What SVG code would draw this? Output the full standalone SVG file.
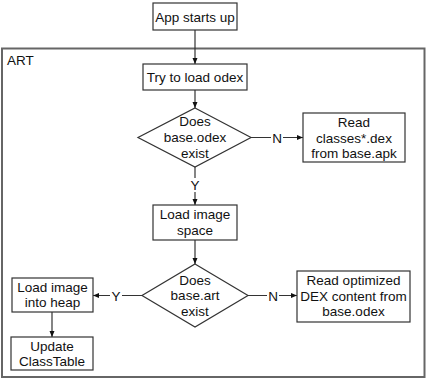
<svg xmlns="http://www.w3.org/2000/svg" width="427" height="379" viewBox="0 0 427 379">
<style>
text{font-family:"Liberation Sans",Arial,sans-serif;font-size:13.5px;fill:#111;text-anchor:middle}
.box{fill:#fff;stroke:#333;stroke-width:1.2}
.frame{fill:#fff;stroke:#666;stroke-width:2}
.ln{stroke:#333;stroke-width:1.2;fill:none;marker-end:url(#ah)}
.lbl{fill:#fff}
</style>
<defs>
<marker id="ah" viewBox="0 0 6 6" refX="6" refY="3" markerWidth="6" markerHeight="6" markerUnits="userSpaceOnUse" orient="auto">
<path d="M0,0.5 L6,3 L0,5.5 Z" fill="#111"/>
</marker>
</defs>
<rect class="frame" x="2" y="48.5" width="422.5" height="328.5"/>
<text x="7" y="65" style="text-anchor:start">ART</text>
<g id="connectors">
<line class="ln" x1="195" y1="30" x2="195" y2="64"/>
<line class="ln" x1="195" y1="90" x2="195" y2="108"/>
<line class="ln" x1="251" y1="137.5" x2="303" y2="137.5"/>
<rect class="lbl" x="271" y="130" width="12" height="15"/>
<text x="277" y="142.5">N</text>
<line class="ln" x1="195" y1="167" x2="195" y2="205"/>
<rect class="lbl" x="189" y="178" width="12" height="14"/>
<text x="195" y="190">Y</text>
<line class="ln" x1="195" y1="240" x2="195" y2="264"/>
<line class="ln" x1="248" y1="295.5" x2="297" y2="295.5"/>
<rect class="lbl" x="267" y="288" width="12" height="15"/>
<text x="273" y="300.5">N</text>
<line class="ln" x1="142" y1="295.5" x2="93" y2="295.5"/>
<rect class="lbl" x="110" y="288" width="12" height="15"/>
<text x="116" y="300.5">Y</text>
<line class="ln" x1="52" y1="312" x2="52" y2="337"/>
</g>
<g id="n-app"><rect class="box" x="153" y="3" width="84" height="27"/><text x="195" y="21.5">App starts up</text></g>
<g id="n-try"><rect class="box" x="143" y="64" width="104" height="26"/><text x="195" y="82">Try to load odex</text></g>
<g id="n-d1"><polygon class="box" points="195,108 251,137.5 195,167 138,137.5"/>
<text x="195" y="126">Does</text><text x="195" y="142">base.odex</text><text x="195" y="157.5">exist</text></g>
<g id="n-read1"><rect class="box" x="303" y="113" width="102" height="49"/>
<text x="354" y="127">Read</text><text x="354" y="142.5">classes*.dex</text><text x="354" y="157.5">from base.apk</text></g>
<g id="n-load"><rect class="box" x="153" y="205" width="84" height="35"/>
<text x="195" y="219">Load image</text><text x="195" y="234.5">space</text></g>
<g id="n-d2"><polygon class="box" points="195,264 248,295.5 195,327 142,295.5"/>
<text x="195" y="284.5">Does</text><text x="195" y="300">base.art</text><text x="195" y="315.5">exist</text></g>
<g id="n-read2"><rect class="box" x="297" y="271" width="113" height="51"/>
<text x="353.5" y="285">Read optimized</text><text x="353.5" y="300.5">DEX content from</text><text x="353.5" y="316">base.odex</text></g>
<g id="n-heap"><rect class="box" x="12" y="278" width="81" height="34"/>
<text x="52.5" y="292">Load image</text><text x="52.5" y="307">into heap</text></g>
<g id="n-upd"><rect class="box" x="11" y="337" width="82" height="33"/>
<text x="52" y="351">Update</text><text x="52" y="366">ClassTable</text></g>
</svg>
